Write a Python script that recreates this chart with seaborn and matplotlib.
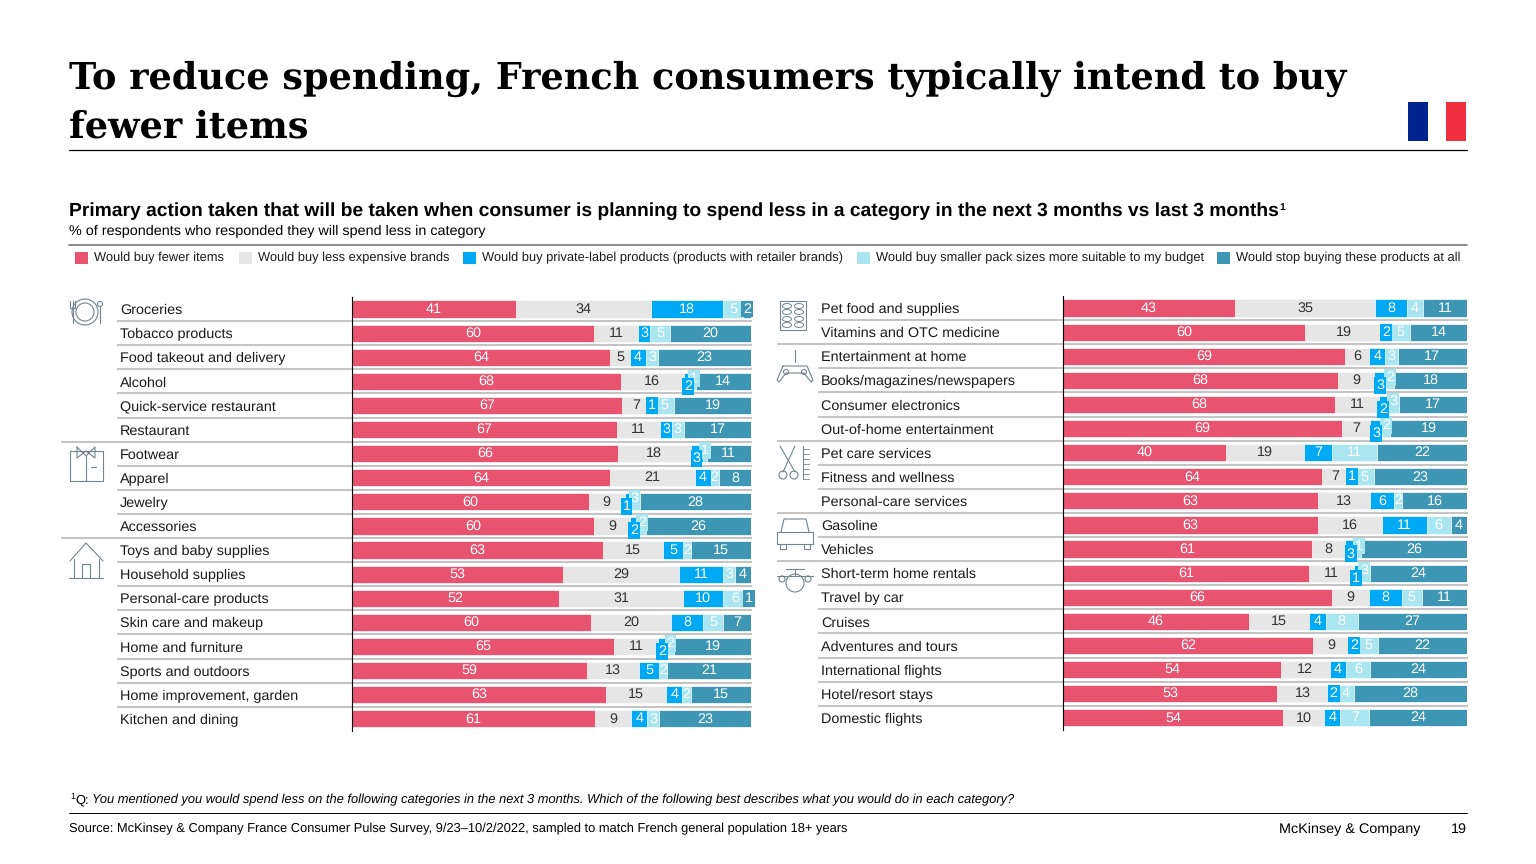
import matplotlib
matplotlib.use('Agg')
import matplotlib.pyplot as plt
from matplotlib.patches import Circle, Rectangle, Ellipse
import pandas as pd
import seaborn as sns

# Series names and colours
series_names = ['Would buy fewer items', 'Would buy less expensive brands',
                'Would buy private-label products (products with retailer brands)',
                'Would buy smaller pack sizes more suitable to my budget',
                'Would stop buying these products at all']
series_colors = ['#E8536F', '#E6E6E6', '#00A9F4', '#AAE6F0', '#3C96B4']
label_colors = ['white', '#333333', 'white', 'white', 'white']

left_cats = ['Groceries', 'Tobacco products', 'Food takeout and delivery', 'Alcohol',
             'Quick-service restaurant', 'Restaurant', 'Footwear', 'Apparel', 'Jewelry',
             'Accessories', 'Toys and baby supplies', 'Household supplies',
             'Personal-care products', 'Skin care and makeup', 'Home and furniture',
             'Sports and outdoors', 'Home improvement, garden', 'Kitchen and dining']
left_fewer = [41, 60, 64, 68, 67, 67, 66, 64, 60, 60, 63, 53, 52, 60, 65, 59, 63, 61]
left_cheaper = [34, 11, 5, 16, 7, 11, 18, 21, 9, 9, 15, 29, 31, 20, 11, 13, 15, 9]
left_private = [18, 3, 4, 2, 1, 3, 3, 4, 1, 2, 5, 11, 10, 8, 2, 5, 4, 4]
left_smaller = [5, 5, 3, 1, 5, 3, 1, 2, 3, 2, 2, 3, 6, 5, 2, 2, 2, 3]
left_stop = [2, 20, 23, 14, 19, 17, 11, 8, 28, 26, 15, 4, 1, 7, 19, 21, 15, 23]
left_breaks = [5, 9]

right_cats = ['Pet food and supplies', 'Vitamins and OTC medicine', 'Entertainment at home',
              'Books/magazines/newspapers', 'Consumer electronics', 'Out-of-home entertainment',
              'Pet care services', 'Fitness and wellness', 'Personal-care services', 'Gasoline',
              'Vehicles', 'Short-term home rentals', 'Travel by car', 'Cruises',
              'Adventures and tours', 'International flights', 'Hotel/resort stays',
              'Domestic flights']
right_fewer = [43, 60, 69, 68, 68, 69, 40, 64, 63, 63, 61, 61, 66, 46, 62, 54, 53, 54]
right_cheaper = [35, 19, 6, 9, 11, 7, 19, 7, 13, 16, 8, 11, 9, 15, 9, 12, 13, 10]
right_private = [8, 2, 4, 3, 2, 3, 7, 1, 6, 11, 3, 1, 8, 4, 2, 4, 2, 4]
right_smaller = [4, 5, 3, 2, 3, 2, 11, 5, 2, 6, 1, 3, 5, 8, 5, 6, 4, 7]
right_stop = [11, 14, 17, 18, 17, 19, 22, 23, 16, 4, 26, 24, 11, 27, 22, 24, 28, 24]
right_breaks = [1, 5, 8, 10]

W, H = 1536, 864
ROW_H = 24.1
ICON = '#71848F'
FONT = ['Liberation Sans', 'DejaVu Sans']

sns.set_theme(style='white')
plt.rcParams['font.family'] = FONT
plt.rcParams['text.hinting'] = 'no_hinting'

fig = plt.figure(figsize=(W / 100, H / 100), dpi=100)
bg = fig.add_axes([0, 0, 1, 1], zorder=0)
bg.set_xlim(0, W)
bg.set_ylim(H, 0)
bg.axis('off')


def draw_panel(cats, columns, breaks, x0, x1, top, label_x, group_x):
    """One stacked panel, placed by pixel box on the slide."""
    n = len(cats)
    bottom = top + n * ROW_H
    ax = fig.add_axes([x0 / W, 1 - bottom / H, (x1 - x0) / W, (bottom - top) / H], zorder=1)
    ax.patch.set_visible(False)

    df = pd.DataFrame(dict(zip(series_names, columns)))
    # the source bars all run the full width, rounded labels do not always add to 100
    shares = df.div(df.sum(axis=1), axis=0) * 100
    cum = shares.cumsum(axis=1)
    cum['category'] = cats

    # paint longest cumulative first so shorter ones sit on top
    for name, color in reversed(list(zip(series_names, series_colors))):
        sns.barplot(data=cum, x=name, y='category', color=color, saturation=1, width=0.71,
                    edgecolor='white', linewidth=0.5, ax=ax)

    ax.set_xlim(0, 100)
    ax.set_ylim(n - 0.5, -0.5)
    ax.set_xlabel('')
    ax.set_ylabel('')
    ax.set_xticks([])
    ax.set_yticks(range(n), labels=cats, ha='left', fontsize=10.35, color='#1a1a1a')
    ax.tick_params(axis='y', length=0, pad=(x0 - label_x) * 0.72)
    sns.despine(ax=ax, top=True, right=True, bottom=True)
    ax.spines['left'].set_color('black')
    ax.spines['left'].set_linewidth(0.8)

    for i in range(n):
        start = 0
        narrow = df.iloc[i, 2] + df.iloc[i, 3] <= 5
        for j, name in enumerate(series_names):
            w = shares.iloc[i, j]
            value = df.iloc[i, j]
            tag = dict(fc=series_colors[j], ec='none', pad=1.3)
            y, box = i, None
            if narrow and j == 2:
                y, box = i + 0.2, tag
            elif narrow and j == 3:
                y, box = i - 0.13, tag
            elif j in (2, 4) and value <= 2:
                box = tag
            ax.text(start + w / 2, y, str(value), ha='center', va='center',
                    fontsize=10.35, color=label_colors[j], bbox=box, zorder=5 - (j == 3 and narrow))
            start += w

    # row separators
    for i in range(n - 1):
        y = top + (i + 1) * ROW_H
        bg.plot([group_x if i in breaks else label_x - 3, x1 + 1], [y, y],
                color='#C4C4C4', lw=1.5, solid_capstyle='butt')
    return ax


draw_panel(left_cats, [left_fewer, left_cheaper, left_private, left_smaller, left_stop],
           left_breaks, 352, 751, 297, 120, 61)
draw_panel(right_cats, [right_fewer, right_cheaper, right_private, right_smaller, right_stop],
           right_breaks, 1063, 1467, 296, 821, 777)

# Title block
for text, y in [('To reduce spending, French consumers typically intend to buy', 79),
                ('fewer items', 127)]:
    bg.text(69, y, text, family='DejaVu Serif', fontweight='bold', fontsize=26.37,
            va='center', ha='left', color='black')
bg.plot([69, 1467], [150, 150], color='black', lw=0.9)
bg.add_patch(Rectangle((1408, 102), 20, 39, fc='#00248F', ec='none'))
bg.add_patch(Rectangle((1446, 102), 20, 39, fc='#F0303F', ec='none'))

bg.text(69, 211, 'Primary action taken that will be taken when consumer is planning to spend less '
        'in a category in the next 3 months vs last 3 months', fontweight='bold', fontsize=13.85,
        va='center', color='black')
bg.text(1279, 207, '1', fontweight='bold', fontsize=7.5, va='center', color='black')
bg.text(69, 231, '% of respondents who responded they will spend less in category',
        fontsize=10.35, va='center', color='black')
bg.plot([69, 1467], [245, 245], color='#8C8C8C', lw=1.4)

# Legend
legend_x = [75, 239, 463, 857, 1217]
for x, name, color in zip(legend_x, series_names, series_colors):
    bg.add_patch(Rectangle((x, 252), 13, 12, fc=color, ec='none'))
    bg.text(x + 19, 258, name, fontsize=9.28, va='center', color='#1a1a1a')

# Footer
bg.text(70, 797, '1', fontsize=6.5, va='center', color='black')
bg.text(75, 800, 'Q:', fontsize=9.25, va='center', color='black')
bg.text(92, 800, 'You mentioned you would spend less on the following categories in the next '
        '3 months. Which of the following best describes what you would do in each category?',
        fontsize=9.25, style='italic', va='center', color='black')
bg.plot([69, 1467], [813, 813], color='black', lw=0.7)
bg.text(69, 829, 'Source: McKinsey & Company France Consumer Pulse Survey, 9/23\u201310/2/2022, '
        'sampled to match French general population 18+ years', fontsize=9.28, va='center',
        color='black')
bg.text(1420, 829, 'McKinsey & Company', fontsize=10.35, va='center', ha='right', color='black')
bg.text(1467, 829, '19', fontsize=10.35, va='center', ha='right', color='black')


# Category icons, rough line drawings
def line(xs, ys, lw=0.8):
    bg.plot(xs, ys, color=ICON, lw=lw, solid_capstyle='round')


def ring(x, y, r, **kw):
    bg.add_patch(Circle((x, y), r, fc='none', ec=ICON, lw=0.8, **kw))


# plate, fork and knife
ring(85, 312, 13)
ring(85, 312, 9)
line([70, 70, 75, 75], [301, 308, 308, 301])
line([72.5, 72.5], [301, 323])
ring(100, 304, 2.5)
line([100, 100], [307, 323])

# shirt
line([70, 70, 103, 103, 70], [451, 481, 481, 451, 451])
line([77, 86, 95, 95, 86, 77, 77], [447, 456, 447, 458, 451, 458, 447])
line([86, 86], [456, 481])
line([91, 96], [467, 467])

# house
line([70, 86, 103], [561, 543, 561])
line([74, 74], [559, 578])
line([99, 99], [559, 578])
line([69, 103], [578, 578])
line([82, 82, 90, 90], [578, 564, 564, 578])

# blister pack
bg.add_patch(Rectangle((780, 301), 26, 29, fc='none', ec=ICON, lw=0.8))
for col in [787, 799]:
    for row in [306, 312, 319, 325]:
        bg.add_patch(Ellipse((col, row), 9, 5, fc='none', ec=ICON, lw=0.7))

# game controller
line([795, 795], [350, 362])
line([783, 807, 813, 811, 804, 786, 779, 777, 783],
     [366, 366, 380, 382, 373, 373, 382, 380, 366])
ring(786, 372, 2.5)
ring(804, 372, 2.5)

# scissors and comb
line([780, 795], [446, 472])
line([795, 783], [446, 472])
ring(783, 475, 4)
ring(794, 475, 4)
line([803, 803], [446, 479])
for y in range(449, 480, 5):
    line([803, 809], [y, y], lw=0.6)

# car
line([777, 777, 813, 813, 777], [532, 544, 544, 532, 532])
line([781, 784, 806, 809], [532, 519, 519, 532])
line([780, 780, 786, 786], [544, 549, 549, 544])
line([804, 804, 810, 810], [544, 549, 549, 544])

# plane
ring(795, 583, 9)
line([777, 813], [576, 576])
line([786, 804], [569, 569])
line([795, 795], [569, 576])
ring(782, 579, 3)
ring(808, 579, 3)

fig.savefig('out.png', dpi=100)
